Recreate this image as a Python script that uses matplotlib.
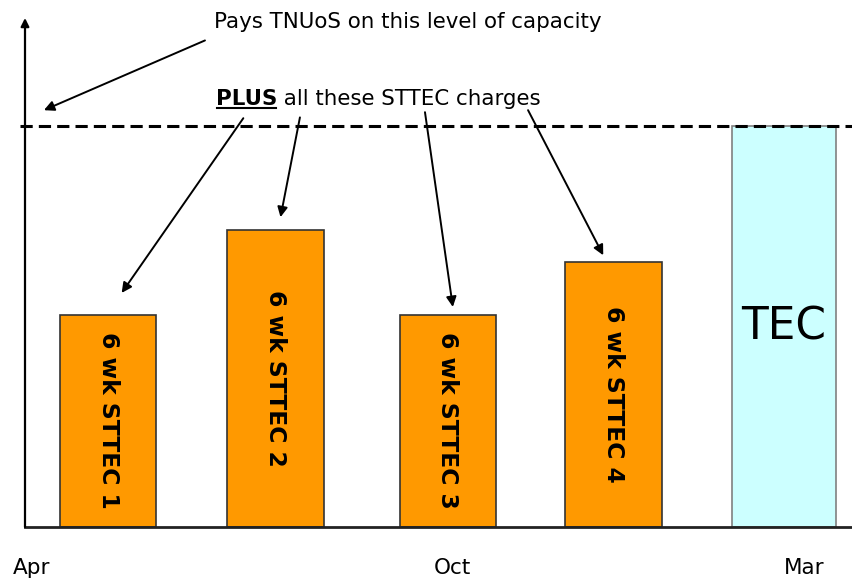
import matplotlib.pyplot as plt

# bars: four 6 week STTEC blocks and the full TEC block
bar_pos = [1.0, 1.99, 3.01, 3.99, 5.0]
bar_height = [53, 74, 53, 66, 100]
bar_labels = ['6 wk STTEC 1', '6 wk STTEC 2', '6 wk STTEC 3', '6 wk STTEC 4', 'TEC']
tec_level = 100

months = ['Apr', 'Oct', 'Mar']
month_pos = [0.545, 3.04, 5.12]

# where each arrow from "PLUS ..." points (x, y)
arrow_tips = [(1.08, 58.4), (2.02, 77.3), (3.04, 54.9), (3.93, 67.8)]
arrow_starts = [(1.80, 102.0), (2.135, 102.2), (2.875, 103.5), (3.485, 104.0)]

fig = plt.figure(figsize=(8.53, 5.78), dpi=100)
ax = fig.add_axes([25/853, 51/578, 828/853, 509/578])
ax.set_xlim(0.508, 5.408)
ax.set_ylim(0, 127)

colors = ['#FF9900'] * 4 + ['#CCFFFF']
edges = ['#333333'] * 4 + ['#808080']
widths = [0.57] * 4 + [0.62]
ax.bar(bar_pos, bar_height, width=widths, color=colors, edgecolor=edges, linewidth=1.2, zorder=2)

for x, h, lab in zip(bar_pos[:4], bar_height[:4], bar_labels[:4]):
    ax.text(x, h / 2, lab, rotation=-90, ha='center', va='center',
            fontsize=16.8, fontweight='bold', zorder=3)
ax.text(bar_pos[4], bar_height[4] / 2, bar_labels[4], ha='center', va='center',
        fontsize=31.5, zorder=3)

# dashed line at the TEC capacity
ax.plot([0.478, 5.408], [tec_level, tec_level], color='black', lw=2.2,
        dashes=(4, 2), clip_on=False, zorder=4)

# axes: plain x line, y axis with arrow head
for s in ['top', 'right', 'left']:
    ax.spines[s].set_visible(False)
ax.spines['bottom'].set_linewidth(2)
ax.spines['bottom'].set_color('#222222')
ax.annotate('', xy=(0.508, 127), xytext=(0.508, 0),
            arrowprops=dict(arrowstyle='-|>', lw=1.6, color='black',
                            mutation_scale=12, shrinkA=0, shrinkB=0),
            annotation_clip=False)
ax.set_yticks([])
ax.set_xticks(month_pos, months, fontsize=15.5)
ax.tick_params(axis='x', length=0, pad=22)

arrow_style = dict(arrowstyle='-|>', lw=1.4, color='black', mutation_scale=15,
                   shrinkA=0, shrinkB=0)

ax.text(1.627, 125.9, 'Pays TNUoS on this level of capacity', fontsize=15.4,
        ha='left', va='center')
ax.annotate('', xy=(0.62, 104.0), xytext=(1.573, 121.4), arrowprops=arrow_style,
            annotation_clip=False)

t1 = ax.text(1.638, 106.7, 'PLUS', fontsize=15.4, fontweight='bold', ha='left', va='center')
ax.annotate(' all these STTEC charges', xy=(1, 0.5), xycoords=t1, fontsize=15.4,
            ha='left', va='center')
fig.canvas.draw()
bb = t1.get_window_extent()
inv = ax.transData.inverted()
(ux0, uy), (ux1, _) = inv.transform([(bb.x0 + 1, bb.y0 + 1), (bb.x1 - 1, bb.y0 + 1)])
ax.plot([ux0, ux1], [uy, uy], color='black', lw=1.5)

for start, tip in zip(arrow_starts, arrow_tips):
    ax.annotate('', xy=tip, xytext=start, arrowprops=arrow_style, annotation_clip=False)

fig.savefig('out.png', dpi=100)
